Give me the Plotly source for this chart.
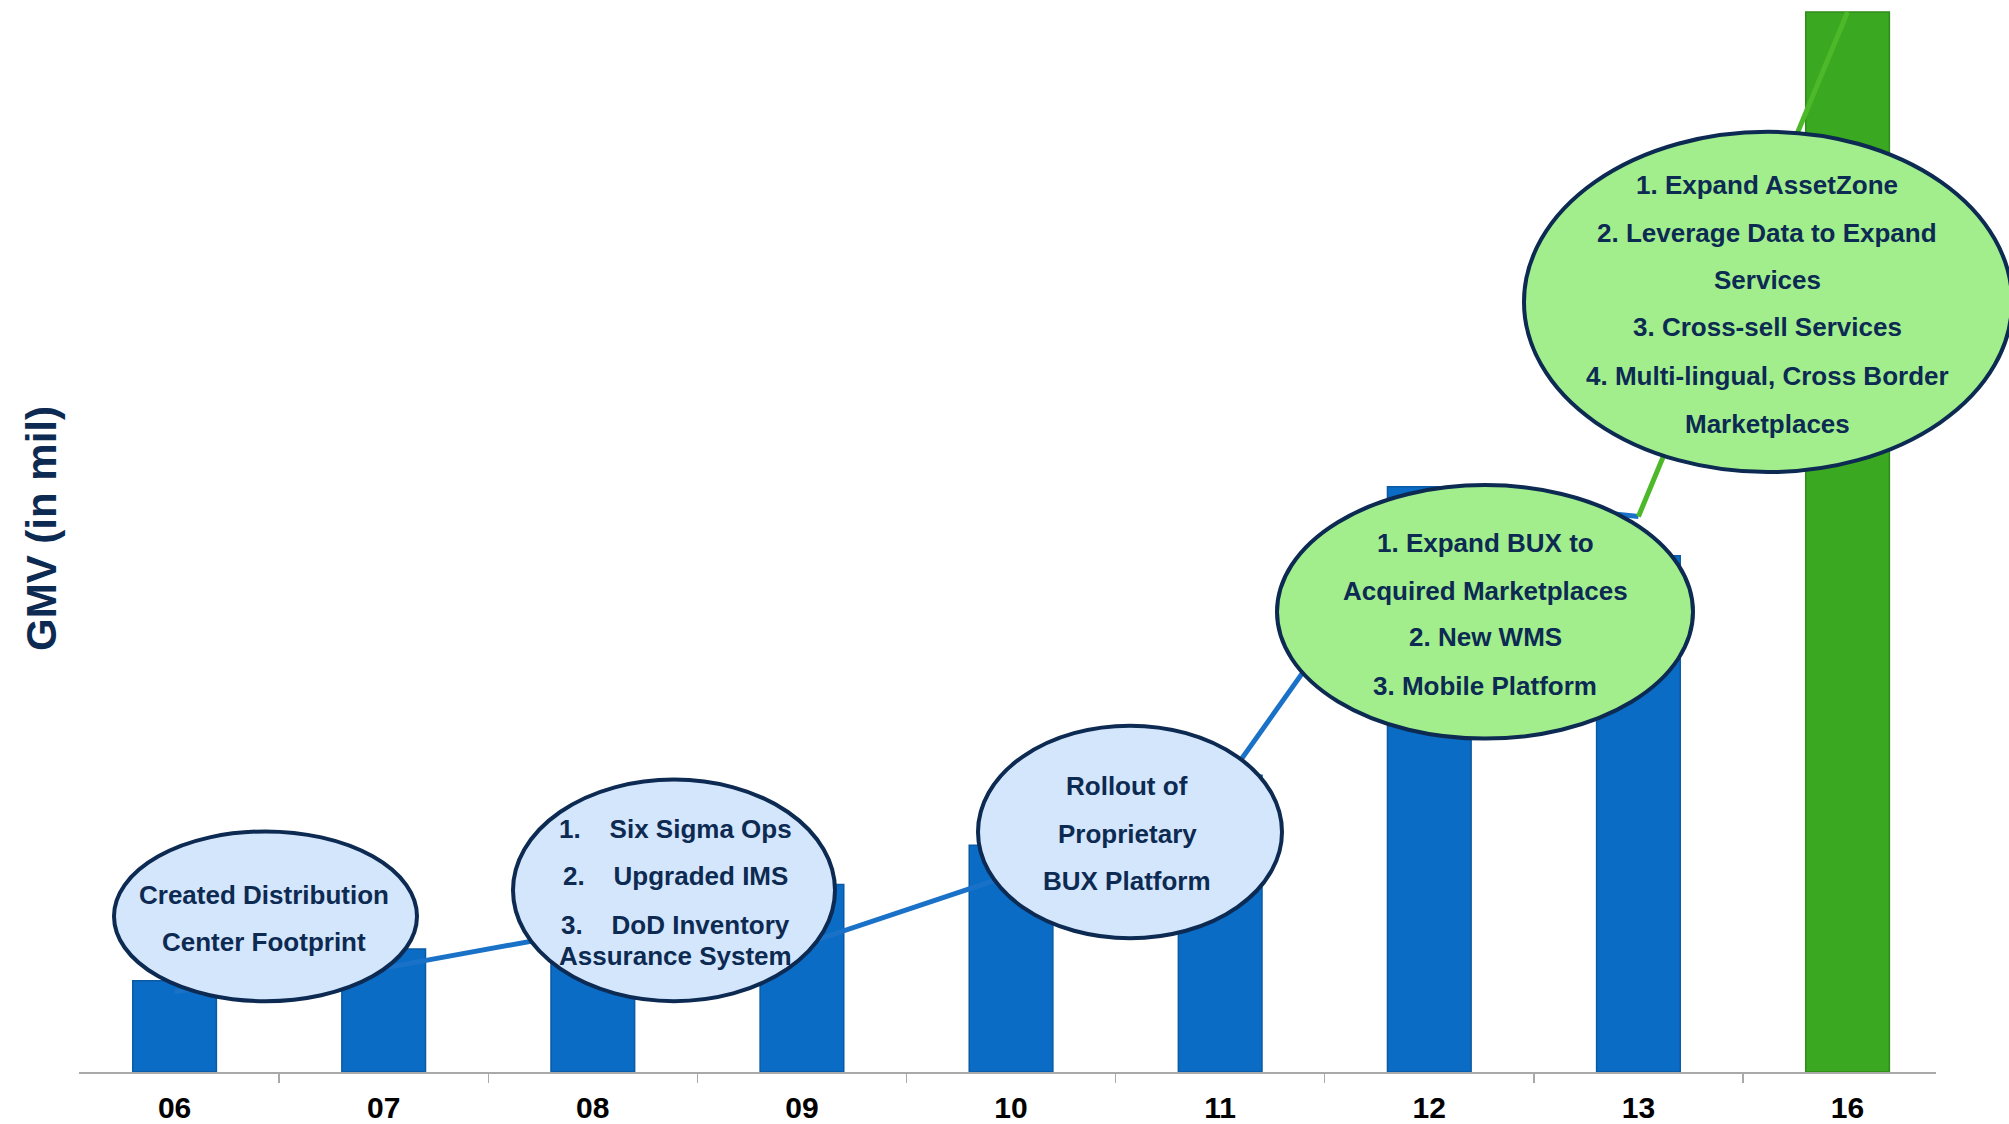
import plotly.graph_objects as go

# ---------------- data ----------------
years = ["06", "07", "08", "09", "10", "11", "12", "13", "16"]
gmv = [86, 116, 140, 177, 214, 280, 552, 487, 1000]          # bar values (GMV, mil)
trend = [76, 98, 134, 120, 186, 267, 545, 524, 1000]          # trend line values
bar_colors = ["#0a6cc4"] * 8 + ["#3aa820"]

bubble1 = ["Created Distribution", "Center Footprint"]
bubble2 = ["1.\u00a0\u00a0\u00a0\u00a0Six Sigma Ops",
           "2.\u00a0\u00a0\u00a0\u00a0Upgraded IMS",
           "3.\u00a0\u00a0\u00a0\u00a0DoD Inventory",
           "Assurance System"]
bubble3 = ["Rollout of", "Proprietary", "BUX Platform"]
bubble4 = ["1. Expand BUX to", "Acquired Marketplaces", "2. New WMS", "3. Mobile Platform"]
bubble5 = ["1. Expand AssetZone", "2. Leverage Data to Expand", "Services",
           "3. Cross-sell Services", "4. Multi-lingual, Cross Border", "Marketplaces"]
y_title = "GMV (in mil)"

# ---------------- layout geometry (pixels) ----------------
FIG_W, FIG_H = 2009, 1124
L, R_EDGE = 79, 1936
B_EDGE = 1074
T = 0
PW = R_EDGE - L
PH = B_EDGE - T


def xp(px):
    return (px - L) / PW


def yp(py):
    return (B_EDGE - py) / PH


NAVY = "#0c2a52"
BLUE_FILL = "#d4e6fb"
GREEN_FILL = "#a2ee8d"

bubbles = [
    # (x0, x1, ytop, ybottom, fill, text lines, text x, line ys)
    (114, 417, 833, 1003, BLUE_FILL, bubble1, 264, [897, 944]),
    (513, 835, 781, 1003, BLUE_FILL, bubble2, 675, [831, 878, 927, 958]),
    (978, 1282, 727, 940, BLUE_FILL, bubble3, 1127, [787, 836, 883]),
    (1277, 1693, 486, 740, GREEN_FILL, bubble4, 1485, [544, 592, 638, 687]),
    (1524, 2012, 132, 473, GREEN_FILL, bubble5, 1767, [185, 233, 281, 328, 377, 425]),
]

fig = go.Figure()

fig.add_trace(go.Bar(
    x=years, y=gmv, width=0.4,
    marker=dict(color=bar_colors, line=dict(color=["#0a5aa6"] * 8 + ["#2f8c1a"], width=1.5)),
    showlegend=False, hoverinfo="skip",
))
fig.add_trace(go.Scatter(
    x=years[:8], y=trend[:8], mode="lines",
    line=dict(color="#1a72c8", width=5), showlegend=False, hoverinfo="skip",
))
fig.add_trace(go.Scatter(
    x=years[7:], y=trend[7:], mode="lines",
    line=dict(color="#4cb82a", width=5), showlegend=False, hoverinfo="skip",
))

shapes = []
annotations = []
for x0, x1, y0, y1, fill, lines, tx, tys in bubbles:
    shapes.append(dict(
        type="circle", xref="paper", yref="paper",
        x0=xp(x0), x1=xp(x1), y0=yp(y1), y1=yp(y0),
        fillcolor=fill, line=dict(color=NAVY, width=4), layer="above",
    ))
    for text, ty in zip(lines, tys):
        annotations.append(dict(
            text=text, xref="paper", yref="paper", x=xp(tx), y=yp(ty),
            xanchor="center", yanchor="middle", showarrow=False,
            font=dict(family="Liberation Sans, Arial, sans-serif", size=26,
                      color=NAVY, weight="bold"),
        ))

annotations.append(dict(
    text=y_title, xref="paper", yref="paper", x=xp(41), y=yp(530),
    xanchor="center", yanchor="middle", showarrow=False, textangle=-90,
    font=dict(family="Liberation Sans, Arial, sans-serif", size=42,
              color=NAVY, weight="bold"),
))

n = len(years)
fig.update_layout(
    width=FIG_W, height=FIG_H,
    margin=dict(l=L, r=FIG_W - R_EDGE, t=T, b=FIG_H - B_EDGE, pad=0),
    paper_bgcolor="white", plot_bgcolor="white",
    shapes=shapes, annotations=annotations,
    hovermode=False,
    xaxis=dict(
        type="category", categoryorder="array", categoryarray=years,
        range=[-0.457, n - 1 + 0.423],
        showgrid=False, zeroline=False,
        showline=True, linecolor="#a9a9a9", linewidth=2,
        ticks="outside", tickson="boundaries", ticklen=9, tickwidth=1.5, tickcolor="#a9a9a9",
        tickfont=dict(family="Liberation Sans, Arial, sans-serif", size=30,
                      color="#000000", weight="bold"),
        ticklabelstandoff=8,
    ),
    yaxis=dict(range=[0, 1011.3], visible=False, showgrid=False, zeroline=False),
)

fig.write_html(
    "out.html",
    config={"displayModeBar": False, "staticPlot": True},
    post_script="document.body.style.margin='0';document.body.style.overflow='hidden';",
)
